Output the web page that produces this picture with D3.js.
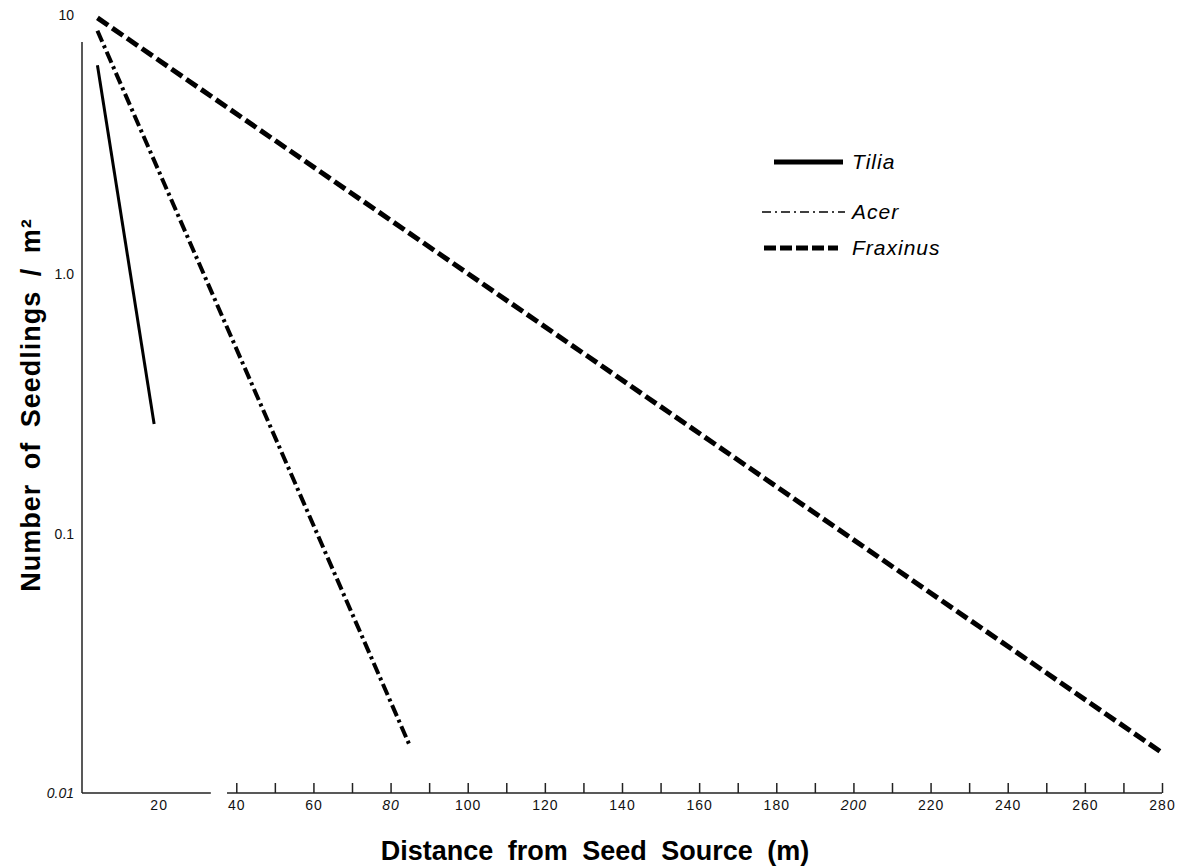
<!DOCTYPE html>
<html>
<head>
<meta charset="utf-8">
<script src="https://cdn.jsdelivr.net/npm/d3@7"></script>
<style>
  body { margin: 0; background: #fff; }
  svg { display: block; }
</style>
</head>
<body>
<div id="container"></div>
<script>
"use strict";

const width = 1191;
const height = 867;

// species and their fitted lines (distance in m, seedlings per m2)
const species = ["Tilia", "Acer", "Fraxinus"];
const tiliaDist = [4, 18.7];
const tiliaDensity = [6.4, 0.265];
const acerDist = [4, 85];
const acerDensity = [8.7, 0.0152];
const fraxinusDist = [4, 280];
const fraxinusDensity = [9.75, 0.0143];

// axis ticks
const xTicks = [40, 50, 60, 70, 80, 90, 100, 110, 120, 130, 140, 150, 160, 170, 180, 190, 200, 210, 220, 230, 240, 250, 260, 270, 280];
const xLabels = ["20", "40", "60", "80", "100", "120", "140", "160", "180", "200", "220", "240", "260", "280"];
const yTicks = [10, 1, 0.1, 0.01];
const yLabels = ["10", "1.0", "0.1", "0.01"];

// line styles
const styles = {
    Tilia:    { width: 3, dash: null },
    Acer:     { width: 4, dash: "12,4,3,4" },
    Fraxinus: { width: 5, dash: "13,5" }
};

const x = d3.scaleLinear().domain([0, 280]).range([82, 1162]);
const y = d3.scaleLog().domain([0.01, 10]).range([793, 15]);

const svg = d3.select("#container").append("svg")
    .attr("width", width)
    .attr("height", height);

// series table built from the arrays
const series = [
    { name: "Tilia", pts: tiliaDist.map((d, i) => [d, tiliaDensity[i]]) },
    { name: "Acer", pts: acerDist.map((d, i) => [d, acerDensity[i]]) },
    { name: "Fraxinus", pts: fraxinusDist.map((d, i) => [d, fraxinusDensity[i]]) }
];

const line = d3.line().x(d => x(d[0])).y(d => y(d[1]));

svg.append("g").selectAll("path")
    .data(series)
    .enter()
    .append("path")
    .attr("d", d => line(d.pts))
    .attr("fill", "none")
    .attr("stroke", "#000")
    .attr("stroke-width", d => styles[d.name].width)
    .attr("stroke-dasharray", d => styles[d.name].dash);

// y axis: plain line, labels only
svg.append("line")
    .attr("x1", x(0)).attr("x2", x(0))
    .attr("y1", 42).attr("y2", y(0.01))
    .attr("stroke", "#222").attr("stroke-width", 1.5);

const yAxis = svg.append("g")
    .attr("transform", "translate(" + x(0) + ",0)")
    .call(d3.axisLeft(y).tickValues(yTicks).tickSize(0).tickPadding(8)
        .tickFormat((d, i) => yLabels[i]));
yAxis.select(".domain").remove();
yAxis.selectAll("text")
    .attr("font-family", "Liberation Sans, Arial, sans-serif")
    .attr("font-size", 14)
    .attr("fill", "#111")
    .attr("font-style", d => d === 0.01 ? "italic" : "normal");

// x axis: broken baseline, ticks pointing up
const xAxis = svg.append("g")
    .attr("transform", "translate(0," + y(0.01) + ")")
    .call(d3.axisBottom(x).tickValues(xTicks).tickSizeInner(-10).tickSizeOuter(0)
        .tickPadding(7).tickFormat(d => xLabels.indexOf(String(d)) >= 0 ? String(d) : ""));
xAxis.select(".domain").remove();
xAxis.selectAll("line").attr("stroke", "#222").attr("stroke-width", 1.5);
xAxis.selectAll("text")
    .attr("font-family", "Liberation Sans, Arial, sans-serif")
    .attr("font-size", 14)
    .attr("fill", "#111")
    .attr("letter-spacing", 1)
    .attr("font-style", d => (d === 80 || d === 200) ? "italic" : "normal");

// label "20" sits in the broken part, no tick
xAxis.append("text")
    .attr("x", x(20)).attr("y", 7).attr("dy", "0.71em")
    .attr("text-anchor", "middle")
    .attr("font-family", "Liberation Sans, Arial, sans-serif")
    .attr("font-size", 14)
    .attr("letter-spacing", 1)
    .attr("fill", "#111")
    .text(xLabels[0]);

// two baseline pieces
[[0, 33.4], [37.6, 280]].forEach(seg => {
    svg.append("line")
        .attr("x1", x(seg[0])).attr("x2", x(seg[1]))
        .attr("y1", y(0.01)).attr("y2", y(0.01))
        .attr("stroke", "#222").attr("stroke-width", 1.5);
});

// axis titles
svg.append("text")
    .attr("x", 595).attr("y", 860)
    .attr("text-anchor", "middle")
    .attr("font-family", "Liberation Sans, Arial, sans-serif")
    .attr("font-weight", "bold")
    .attr("font-size", 27)
    .attr("word-spacing", 7)
    .text("Distance from Seed Source (m)");

svg.append("text")
    .attr("transform", "translate(40,405) rotate(-90)")
    .attr("text-anchor", "middle")
    .attr("font-family", "Liberation Sans, Arial, sans-serif")
    .attr("font-weight", "bold")
    .attr("font-size", 27)
    .attr("letter-spacing", 1)
    .attr("word-spacing", 6)
    .text("Number of Seedlings / m²");

// legend
const legendStyles = {
    Tilia:    { x1: 774, x2: 843, width: 5,   dash: null },
    Acer:     { x1: 762, x2: 845, width: 1.5, dash: "9,4,2,4" },
    Fraxinus: { x1: 764, x2: 838, width: 5,   dash: "12,4" }
};
const legendY = [162, 212, 248];

const legend = svg.append("g");
species.forEach((s, i) => {
    const st = legendStyles[s];
    legend.append("line")
        .attr("x1", st.x1).attr("x2", st.x2)
        .attr("y1", legendY[i]).attr("y2", legendY[i])
        .attr("stroke", "#000")
        .attr("stroke-width", st.width)
        .attr("stroke-dasharray", st.dash);
    legend.append("text")
        .attr("x", 852).attr("y", legendY[i] + 7)
        .attr("font-family", "Liberation Sans, Arial, sans-serif")
        .attr("font-style", "italic")
        .attr("font-size", 21)
        .attr("letter-spacing", 1)
        .text(s);
});
</script>
</body>
</html>
